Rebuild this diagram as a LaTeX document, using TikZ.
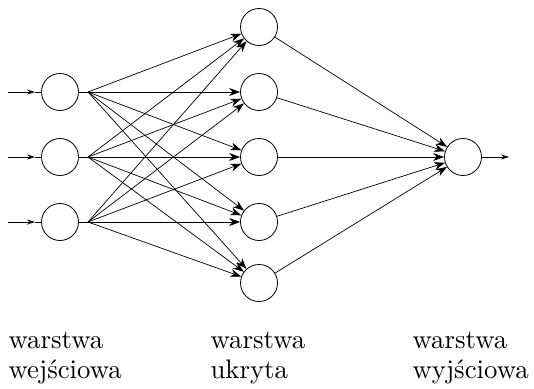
\documentclass[tikz,border=0pt]{standalone}
\usepackage{fontspec}
\usetikzlibrary{arrows.meta}
\begin{document}
\begin{tikzpicture}[x=1pt,y=-1pt,
  neuron/.style={circle,draw,line width=0.8pt,minimum size=37pt,inner sep=0pt},
  conn/.style={line width=0.7pt,-{Stealth[length=11pt,width=8pt]}},
  small/.style={line width=0.7pt,-{Stealth[length=8pt,width=5pt]}},
  plain/.style={line width=0.7pt},
  lab/.style={anchor=base west,inner sep=0pt,font=\fontsize{10}{12}\selectfont,scale=2.68}]
\useasboundingbox (0,0) rectangle (534,388);
% input layer
\foreach \i/\y in {1/92,2/157,3/222}{
  \node[neuron] (in\i) at (60,\y) {};
  \coordinate (src\i) at (8,\y);
  \coordinate (mid\i) at (35,\y);
  \coordinate (fan\i) at (88,\y);
  \draw[small] (src\i) -- (mid\i);
  \draw[plain] (mid\i) -- (in\i);
  \draw[plain] (in\i) -- (fan\i);
}
% hidden layer
\foreach \j/\y in {1/27,2/92,3/157,4/222,5/283}{
  \node[neuron] (h\j) at (259,\y) {};
}
% output
\node[neuron] (out) at (463,157) {};
\coordinate (end) at (509,157);
\draw[small] (out) -- (end);
% connections
\foreach \i in {1,2,3}{
  \foreach \j in {1,...,5}{
    \draw[conn] (fan\i) -- (h\j);
  }
}
\foreach \j in {1,...,5}{
  \draw[conn] (h\j) -- (out);
}
% labels
\node[lab] (l1a) at (8,348) {warstwa};
\node[lab] (l1b) at (8,378) {wejściowa};
\node[lab] (l2a) at (210,348) {warstwa};
\node[lab] (l2b) at (210,378) {ukryta};
\node[lab] (l3a) at (412,348) {warstwa};
\node[lab] (l3b) at (412,378) {wyjściowa};
\end{tikzpicture}
\end{document}
